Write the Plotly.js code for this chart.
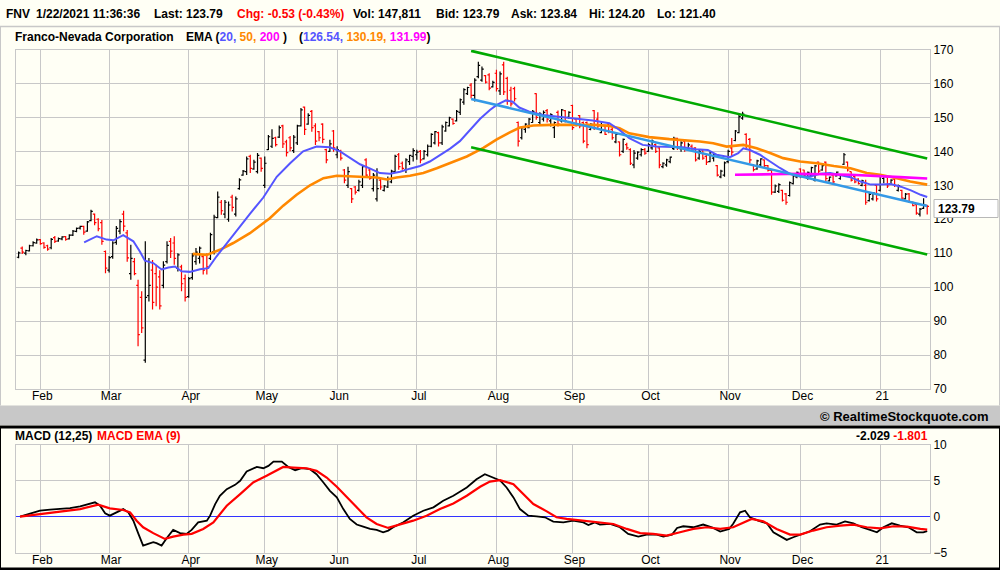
<!DOCTYPE html>
<html><head><meta charset="utf-8">
<script src="https://cdn.plot.ly/plotly-3.0.1.min.js"></script>
<style>html,body{margin:0;padding:0;background:#fffff5;}#chart{width:1000px;height:570px;}</style>
</head><body><div id="chart"></div>
<script>
// ---- Data ----
const monthTickIdx = [6,25,47,68,88,110,132,153,174,196,216,238];
const monthLabels = ['Feb','Mar','Apr','May','Jun','Jul','Aug','Sep','Oct','Nov','Dec','21'];

const openP = [
108.8,111.5,110.0,110.7,112.2,113.0,114.0,113.0,112.2,111.6,
114.6,113.6,114.2,114.9,114.2,115.3,116.4,117.4,117.9,116.5,
119.6,121.5,120.0,119.0,110.5,105.0,109.0,113.2,116.5,121.5,
116.0,104.0,107.5,100.5,97.0,78.5,97.5,105.0,104.0,103.0,
100.5,107.5,113.5,113.0,105.5,106.0,102.5,97.2,102.8,107.5,
108.5,109.0,109.5,108.5,110.5,120.5,125.0,121.5,120.0,126.5,
121.5,129.0,133.0,134.0,138.5,134.8,134.0,138.0,130.0,140.5,
141.5,144.0,144.2,147.5,142.8,144.0,140.2,142.5,147.5,153.0,
148.0,151.8,147.5,145.8,148.0,140.5,140.0,146.0,139.0,140.2,
134.5,130.0,129.0,129.5,128.5,130.0,137.5,134.5,129.0,126.0,
131.5,128.5,129.5,131.0,134.0,139.0,136.5,134.5,137.0,138.5,
139.0,140.0,137.8,139.0,141.5,142.5,145.5,142.5,146.0,147.5,
149.5,149.0,151.5,154.5,157.0,159.5,156.5,162.0,161.0,162.3,
162.5,159.0,163.0,157.8,165.5,161.5,158.0,158.5,148.5,144.0,
146.5,147.0,148.5,157.0,148.5,149.5,152.0,149.0,147.0,151.5,
149.0,152.0,150.0,153.5,149.5,150.5,148.5,148.5,146.5,152.0,
149.5,145.5,147.5,148.0,146.5,142.8,142.8,140.0,142.0,140.5,
136.0,138.0,139.0,140.5,140.0,141.0,142.0,141.0,135.5,136.0,
137.0,140.8,143.8,140.8,143.0,140.5,141.5,141.0,138.0,140.4,
138.5,137.0,138.0,135.8,132.5,133.0,137.0,141.0,143.2,145.5,
149.8,145.0,143.5,136.0,134.8,136.0,137.5,135.8,134.4,128.0,
128.2,128.5,127.5,127.0,130.5,132.5,134.8,134.5,132.0,133.0,
131.5,136.8,134.5,136.8,131.3,133.0,132.8,132.0,136.2,136.8,
134.0,132.6,131.8,130.0,130.0,125.5,126.0,130.0,128.5,132.0,
132.5,130.5,131.8,128.5,128.5,126.0,127.5,125.0,124.3,121.5,
123.2,124.1];
const highP = [
110.5,112.0,111.0,112.5,113.5,114.3,114.2,113.2,112.5,114.5,
115.1,114.6,115.0,115.1,115.6,116.8,117.6,118.1,118.1,119.5,
122.8,121.7,120.3,119.8,110.8,109.2,113.5,118.0,120.0,122.5,
116.8,112.5,108.6,102.2,98.8,113.5,108.6,108.0,106.6,105.0,
107.6,113.5,114.5,115.0,110.0,106.6,103.7,103.0,110.0,111.5,
112.0,109.6,110.0,116.0,121.3,128.2,125.7,125.7,125.2,127.2,
126.7,132.1,134.5,138.5,139.0,137.5,139.5,138.2,138.5,144.8,
146.5,144.3,147.6,147.8,143.4,144.5,144.8,147.8,152.8,153.2,
151.2,152.2,148.3,146.0,148.3,140.8,143.4,146.3,141.5,140.5,
134.8,135.5,129.2,129.8,131.6,136.0,138.0,135.0,133.6,135.0,
132.1,130.1,132.6,134.6,139.0,139.5,137.0,138.0,139.0,140.9,
140.5,140.4,140.4,142.0,145.3,146.0,145.8,147.8,148.8,150.2,
149.7,152.2,155.6,158.6,159.0,160.1,161.5,166.4,165.0,162.5,
163.0,160.8,164.0,163.5,166.4,162.0,159.0,159.0,148.8,147.5,
148.3,149.8,152.2,157.1,151.5,152.0,152.5,151.2,148.8,152.0,
152.5,152.2,151.8,153.7,149.8,150.7,148.8,148.8,148.3,152.2,
151.5,148.8,147.8,148.3,147.3,145.3,142.9,143.8,142.5,140.9,
140.4,140.0,140.9,141.0,142.4,143.5,142.3,141.4,136.8,137.8,
138.5,144.3,144.0,143.0,143.5,142.5,142.0,141.2,140.5,140.6,
139.0,140.0,139.5,136.0,134.6,137.0,140.5,143.9,146.3,150.7,
151.7,145.3,143.9,136.3,137.5,138.0,137.6,136.0,134.6,130.2,
130.6,128.7,127.7,131.1,133.1,134.1,135.0,134.6,134.1,135.5,
136.0,137.0,136.2,137.0,132.6,133.1,134.1,133.2,139.5,137.0,
134.1,133.0,132.1,131.6,131.6,127.7,128.0,130.2,133.1,133.0,
132.6,131.8,132.0,130.2,128.7,127.7,127.7,125.2,124.5,123.3,
126.2,124.2];
const lowP = [
108.5,109.8,109.4,110.5,112.0,112.8,112.5,111.3,110.7,111.2,
113.0,113.4,113.8,113.7,114.0,115.1,116.2,117.0,115.4,116.3,
119.4,118.2,116.5,112.5,104.1,104.3,108.4,112.5,115.6,116.5,
107.5,102.2,103.5,82.6,86.5,77.7,95.8,93.4,94.4,93.4,
99.7,107.0,108.6,106.6,104.6,98.8,95.8,96.9,102.2,106.6,
107.0,103.7,103.7,108.0,109.6,120.3,121.3,120.3,119.3,122.3,
120.8,128.7,132.8,133.0,133.6,134.6,133.5,134.0,129.2,140.4,
141.0,141.4,143.9,141.0,138.5,140.0,139.5,141.9,147.3,144.8,
147.8,145.8,141.9,143.0,142.4,136.5,139.9,139.9,138.0,137.3,
130.6,129.2,124.8,127.3,128.2,129.2,132.6,131.6,128.2,125.2,
128.7,128.2,129.2,130.6,133.6,134.6,134.6,133.6,136.0,137.0,
137.5,136.5,137.6,138.5,141.2,142.0,141.4,141.9,145.8,147.3,
147.8,148.8,150.7,153.7,156.6,155.6,154.7,161.5,160.5,160.0,
158.0,158.8,157.6,156.6,156.6,153.7,153.2,154.7,141.4,143.5,
145.5,146.8,148.4,149.3,147.5,148.8,148.5,147.3,143.9,147.3,
148.5,148.5,149.5,146.3,147.3,146.8,142.4,140.9,146.2,146.3,
146.5,145.3,144.8,145.3,143.4,142.4,138.5,139.5,140.5,136.0,
135.0,137.5,138.5,139.0,139.8,140.5,139.5,135.0,135.0,135.5,
136.5,140.4,140.4,139.9,139.9,140.3,140.3,137.0,137.5,137.5,
136.0,136.8,137.0,132.6,132.1,132.5,136.5,138.5,143.0,145.3,
149.3,140.9,136.5,134.1,134.6,135.5,135.2,134.1,127.2,127.7,
127.7,125.2,124.3,126.7,130.2,132.1,132.1,132.6,131.6,132.6,
131.1,133.6,134.3,131.1,131.1,130.6,132.6,131.6,136.0,134.1,
131.1,130.6,130.2,129.7,124.3,125.2,125.5,125.2,128.2,130.6,
129.2,130.3,129.5,128.2,125.7,125.8,124.8,123.8,121.3,120.8,
123.0,121.4];
const closeP = [
110.1,110.3,110.8,112.2,113.1,113.9,112.8,111.7,111.2,114.1,
113.5,114.3,114.8,114.1,115.3,116.5,117.3,117.9,116.2,119.2,
122.3,119.0,117.2,113.5,105.6,108.7,113.0,117.3,119.3,118.0,
108.6,108.5,104.0,86.0,88.0,97.0,100.5,95.5,100.0,94.5,
106.5,112.3,110.6,108.5,109.5,101.0,97.0,102.5,109.2,110.3,
111.5,105.0,106.0,115.5,120.6,126.5,122.5,125.0,124.2,123.5,
126.0,131.6,134.2,137.8,135.0,136.8,138.8,135.0,136.5,144.3,
143.8,142.0,147.0,142.2,139.6,141.0,144.2,147.5,152.2,146.5,
150.6,147.0,143.0,144.0,143.5,137.5,142.2,141.0,140.5,138.0,
131.5,134.0,126.0,128.0,131.0,135.5,133.0,132.0,133.0,129.0,
129.5,129.8,132.0,134.2,138.5,135.5,135.0,137.5,138.8,140.2,
139.8,137.5,140.0,141.5,145.0,145.8,142.5,147.2,148.5,149.9,
148.2,151.8,155.2,158.2,158.8,156.5,161.0,165.3,164.2,160.4,
158.6,160.3,158.5,162.8,157.5,155.0,154.0,155.5,143.0,147.0,
148.0,149.5,151.8,150.0,151.0,151.5,149.5,150.8,148.5,148.0,
152.2,149.0,151.5,147.0,147.8,147.5,143.0,142.0,148.0,147.0,
147.5,148.5,145.0,145.8,144.0,145.0,139.0,143.5,141.0,136.5,
139.5,139.8,140.5,139.5,142.0,143.0,140.0,136.0,136.5,137.5,
138.3,143.8,141.0,142.5,140.5,141.9,140.8,137.5,140.0,138.0,
136.8,139.6,139.0,133.0,134.2,136.6,140.0,139.8,146.0,150.2,
151.0,141.5,137.5,134.6,137.2,137.8,135.8,134.4,128.0,129.8,
130.2,125.6,125.0,130.8,132.8,133.8,133.0,133.0,133.8,135.2,
135.7,134.2,135.8,132.0,132.4,131.0,133.9,133.0,139.0,134.5,
131.5,131.0,130.5,131.3,125.0,127.3,127.8,126.0,132.8,132.6,
129.8,131.5,130.0,129.9,126.2,127.4,125.2,124.0,121.8,123.0,
124.32,123.79];

// EMA lines, read at sample positions (bar index, value)
const ema20X = [18.1,21.6,24.3,26.2,28.9,31.7,33.5,34.9,37.2,39.5,41.4,43.2,45,47.3,50.1,52.4,54.7,57.5,61.2,63.9,67.6,71.3,75,78.6,82.3,86,88.8,91.5,94.3,97,99.8,102.6,105.4,108.1,110.9,113.6,116.4,119.2,121.9,124.7,127.5,130.2,132.1,134.6,136.5,138.3,141.1,144.8,149.4,154,158.6,163.2,166,168.7,172.4,176.1,179.8,183.5,187.1,190.4,192.8,196.5,198.8,200.2,202,204.8,207.6,210.3,213.1,215.9,218.7,221.4,224.2,227,229.8,232.6,235.4,238.1,240.9,243.7,246.5,249.2,251];
const ema20Y = [113.2,115.0,114.0,113.8,115.3,113.5,110.5,107.8,107.1,105.2,105.8,106.1,104.7,104.5,105.3,105.6,109.1,113.0,117.9,121.6,126.4,132.5,136.5,140.0,141.4,141.2,140.0,138.2,136.2,135.0,133.6,133.4,134.0,134.9,135.7,137.0,138.8,140.8,143.0,146.2,149.6,152.2,153.7,155.0,154.6,152.9,151.7,150.7,150.2,149.7,149.1,148.3,146.3,143.9,141.9,141.4,141.4,141.2,140.6,140.4,139.0,138.3,139.5,140.9,140.4,139.0,137.0,135.1,133.4,132.6,132.6,133.4,133.6,133.1,132.4,131.1,130.2,130.2,130.4,129.6,128.5,127.2,126.54];
const ema50X = [48.1,52,55.6,59.3,63.9,69.4,73.1,76.8,80.5,84.2,87.9,91.5,95.2,98.9,101.7,104.4,108.1,111.8,115.5,119.2,123.8,128.4,132.1,135.7,138.5,142.2,147,154,159,163.2,166,168.7,174.2,179.8,185.3,188.2,191.9,195.6,200.2,203.9,207.6,211.2,215.9,220.5,225.2,229.8,234.3,238,242.6,246.3,251];
const ema50Y = [109.8,109.5,111.0,113.0,115.9,120.3,124.0,127.2,130.0,132.1,132.8,132.6,132.4,132.3,131.7,132.3,132.8,133.6,135.0,136.5,138.5,141.0,143.5,145.6,147.0,147.6,147.8,147.8,147.8,147.5,146.8,145.3,144.2,143.6,143.2,142.9,142.4,141.4,141.9,140.9,139.5,138.0,137.0,136.5,135.7,135.05,133.6,133.1,132.1,131.1,130.19];
const ema200X = [197.9,205,215.9,229.8,237.1,243.5,251];
const ema200Y = [133.1,133.3,133.4,133.1,132.8,132.4,131.99];

// Trend channel (regression line and parallel bands)
const trendX = [125,251];
const trendMid = [155.4,123.9];
const trendUpper = [169.6,137.9];
const trendLower = [141.2,109.6];

// MACD (12,25) and its EMA(9)
const macdX = [0.4,3.1,5.9,8.7,11.4,14.2,17,19.7,21.1,22.5,23.9,25.2,27.1,28.9,30.3,31.7,33.1,34.4,35.8,37.2,38.1,39.5,41.1,42.7,44.6,46.4,47.8,49.6,52,52.9,54.3,55.6,57.5,59.8,61.2,63,65.8,67.6,69,70.4,72.7,74.5,76.4,78.2,80.5,82.3,84.2,86,87.9,89.7,91.5,93.4,95.2,97.1,98.9,100.7,102.1,103.5,106.3,109,111.8,114.6,117.3,120.1,123.8,126.5,128.8,131.1,133,134.8,136.7,138.5,140.8,143.1,145.4,147.7,150.5,153.2,156,157.4,159.2,160.6,163.4,166.1,168.4,171.2,173.5,176.3,178.1,180.5,181.9,183.6,186.4,189.1,191.9,193.8,196.3,197.4,199.3,200.7,202,204.3,206.7,208.5,210.8,212.2,214,216.3,218.6,221.4,223.2,226,228.3,230.6,232.9,235.2,237.1,238.9,241.2,243.5,245.8,248.1,249.9,251];
const macdY = [0,0.37,0.83,0.97,1.06,1.2,1.44,1.76,2.0,1.53,0.46,0.14,0.6,1.06,0.6,-0.56,-2.4,-4.03,-3.8,-3.56,-3.7,-4.03,-2.87,-1.85,-2.3,-2.4,-1.85,-0.79,-0.56,0.14,1.76,2.9,3.84,4.44,5.0,6.3,6.94,6.76,7.08,7.69,7.69,6.94,6.48,6.76,6.62,5.93,4.77,3.61,2.69,1.06,-0.32,-1.1,-1.39,-1.71,-1.85,-2.18,-1.94,-1.48,-0.79,0.14,0.83,1.3,2.22,2.92,4.07,5.23,5.93,5.46,5.05,4.07,2.69,1.06,0.14,0.05,-0.09,-0.69,-0.79,-0.56,-0.79,-1.16,-0.79,-1.1,-1.0,-1.48,-2.4,-2.78,-2.5,-2.5,-2.78,-2.5,-1.57,-1.34,-1.48,-1.1,-1.57,-2.08,-1.71,-1.0,0.6,0.83,-0.09,-0.56,-0.93,-2.18,-2.78,-3.24,-2.87,-2.4,-2.04,-1.1,-0.93,-1.1,-0.65,-0.93,-1.48,-1.85,-2.18,-1.48,-0.93,-1.25,-1.48,-2.18,-2.18,-2.029];
const signalX = [0.4,8.7,17,22,25.2,28.9,30.8,32.6,34.4,37.2,40.4,42.7,45.5,47.8,51,53.8,57.5,61.2,64.8,68.5,71.3,73.1,75.9,79.6,82.3,85.1,87.9,90.6,93.4,96.1,98.9,102.1,105.4,109,112.7,116.4,120.1,123.8,127.5,130.2,133,136.7,139.4,142.2,145.9,148.6,151.4,156,160.6,164.3,168,171.7,175.3,179,182.7,186.4,190.1,193.8,197.4,200.2,202.5,205.7,209.4,213.1,215.9,219.5,223.2,227,230.6,234.3,238,241.7,245.4,249.1,251];
const signalY = [0,0.5,1.06,1.67,1.16,0.93,0.6,-0.56,-1.48,-2.3,-3.1,-2.78,-2.5,-2.4,-1.71,-0.79,1.53,3.15,4.77,5.7,6.48,6.94,6.85,6.76,6.39,5.46,4.17,2.69,1.3,-0.09,-1.02,-1.57,-1.1,-0.56,0.14,1.06,1.85,2.92,4.17,4.9,5.1,4.54,3.15,1.76,0.74,-0.09,-0.32,-0.56,-0.79,-1.02,-1.71,-2.3,-2.4,-2.64,-2.18,-1.71,-1.48,-1.71,-1.48,-0.79,-0.32,-0.65,-1.71,-2.5,-2.5,-1.94,-1.48,-1.25,-1.1,-1.48,-1.62,-1.34,-1.39,-1.71,-1.801];

const priceTicks = [70,80,90,100,110,120,130,140,150,160,170];
const macdTicks = [-5,0,5,10];

// ---- Layout helpers ----
const W = 1000, H = 570;
const FONT = 'Liberation Sans, Arial, sans-serif';
const BG = '#fffff5';
const GRID = '#c8c8c8';
const C_BLUE = '#5555ff', C_ORANGE = '#ff8800', C_MAG = '#ff00ff', C_GREEN = '#00aa00', C_LBLUE = '#3399e6';
const fx = p => p / W, fy = p => 1 - p / H;
const barIdx = closeP.map((_, i) => i);
const xRange = [-0.72, 251.77];

const traces = [
  {type:'ohlc', x:barIdx, open:openP, high:highP, low:lowP, close:closeP, xaxis:'x', yaxis:'y',
   increasing:{line:{color:'#000000', width:1.2}}, decreasing:{line:{color:'#ff0000', width:1.2}},
   tickwidth:0.5, hoverinfo:'skip', showlegend:false},
  {type:'scatter', mode:'lines', x:ema50X, y:ema50Y, line:{color:C_ORANGE, width:2.6}, xaxis:'x', yaxis:'y', showlegend:false},
  {type:'scatter', mode:'lines', x:ema20X, y:ema20Y, line:{color:C_BLUE, width:2}, xaxis:'x', yaxis:'y', showlegend:false},
  {type:'scatter', mode:'lines', x:ema200X, y:ema200Y, line:{color:C_MAG, width:2.6}, xaxis:'x', yaxis:'y', showlegend:false},
  {type:'scatter', mode:'lines', x:trendX, y:trendMid, line:{color:C_LBLUE, width:2.6}, xaxis:'x', yaxis:'y', showlegend:false},
  {type:'scatter', mode:'lines', x:trendX, y:trendUpper, line:{color:C_GREEN, width:2.6}, xaxis:'x', yaxis:'y', showlegend:false},
  {type:'scatter', mode:'lines', x:trendX, y:trendLower, line:{color:C_GREEN, width:2.6}, xaxis:'x', yaxis:'y', showlegend:false},
  {type:'scatter', mode:'lines', x:macdX, y:macdY, line:{color:'#000000', width:1.8}, xaxis:'x2', yaxis:'y2', showlegend:false},
  {type:'scatter', mode:'lines', x:signalX, y:signalY, line:{color:'#ff0000', width:2.2}, xaxis:'x2', yaxis:'y2', showlegend:false}
];

const tickFont = {family:FONT, size:12, color:'#000'};
function xAx(anchor){
  return {domain:[fx(16), fx(930)], range:xRange, anchor:anchor, tickmode:'array', tickvals:monthTickIdx, ticktext:monthLabels,
    showgrid:true, gridcolor:GRID, gridwidth:1, zeroline:false, showline:true, mirror:true, linecolor:GRID, linewidth:1,
    ticks:'', tickfont:tickFont, ticklabelshift:2, ticklabelstandoff:-4, rangeslider:{visible:false}, fixedrange:true};
}
function yAx(anchor, dom, rng, tv){
  return {domain:dom, range:rng, anchor:anchor, side:'right', tickmode:'array', tickvals:tv,
    showgrid:true, gridcolor:GRID, gridwidth:1, showline:true, mirror:true, linecolor:GRID, linewidth:1,
    ticks:'', tickfont:tickFont, fixedrange:true};
}

function ann(text, x, y, opts){
  return Object.assign({text:text, xref:'paper', yref:'paper', x:fx(x), y:fy(y), xanchor:'left', yanchor:'middle',
    showarrow:false, font:{family:FONT, size:12, color:'#000'}, borderpad:0}, opts||{});
}
const sp = (c, t) => '<span style="color:' + c + '">' + t + '</span>';

const annotations = [
  ann('<b>FNV</b>', 5, 14),
  ann('<b>1/22/2021 11:36:36</b>', 35, 14),
  ann('<b>Last: 123.79</b>', 153, 14),
  ann('<b>Chg: -0.53 (-0.43%)</b>', 236, 14, {font:{family:FONT, size:12, color:'#ff0000'}}),
  ann('<b>Vol: 147,811</b>', 352, 14),
  ann('<b>Bid: 123.79</b>', 435, 14),
  ann('<b>Ask: 123.84</b>', 510, 14),
  ann('<b>Hi: 124.20</b>', 588, 14),
  ann('<b>Lo: 121.40</b>', 656, 14),
  ann('<b>Franco-Nevada Corporation</b>', 14, 37),
  ann('<b>EMA (' + sp(C_BLUE,'20,') + ' ' + sp(C_ORANGE,'50,') + ' ' + sp(C_MAG,'200') + ' )</b>', 185, 37),
  ann('<b>(' + sp(C_BLUE,'126.54,') + ' ' + sp(C_ORANGE,'130.19,') + ' ' + sp(C_MAG,'131.99') + ')</b>', 298, 37),
  ann('<b>123.79</b>', 937, 208.5),
  ann('<b>© RealtimeStockquote.com</b>', 990, 416, {xanchor:'right', font:{family:FONT, size:13, color:'#000'}}),
  ann('<b>MACD (12,25)</b>', 14, 435.5),
  ann('<b>MACD EMA (9)</b>', 96, 435.5, {font:{family:FONT, size:12, color:'#ff0000'}}),
  ann('<b>-2.029 ' + sp('#ff0000','-1.801') + '</b>', 929, 435.5, {xanchor:'right'})
];

const shapes = [
  {type:'line', xref:'paper', yref:'paper', x0:0, x1:1, y0:fy(26.5), y1:fy(26.5), line:{color:GRID, width:1.5}},
  {type:'rect', xref:'paper', yref:'paper', x0:0, x1:1, y0:fy(425), y1:fy(405.5), fillcolor:'#c8c8c8', line:{width:0}},
  {type:'line', xref:'paper', yref:'paper', x0:0, x1:1, y0:fy(427), y1:fy(427), line:{color:'#000', width:3}},
  {type:'line', xref:'paper', yref:'paper', x0:0, x1:1, y0:fy(569), y1:fy(569), line:{color:'#000', width:3}},
  {type:'line', xref:'paper', yref:'paper', x0:fx(0.5), x1:fx(0.5), y0:fy(26.5), y1:fy(405.5), line:{color:GRID, width:1}},
  {type:'line', xref:'paper', yref:'paper', x0:fx(999.5), x1:fx(999.5), y0:fy(26.5), y1:fy(405.5), line:{color:GRID, width:1}},
  {type:'line', xref:'paper', yref:'paper', x0:fx(0.5), x1:fx(0.5), y0:fy(428), y1:fy(568), line:{color:'#000', width:1}},
  {type:'line', xref:'paper', yref:'paper', x0:fx(999.5), x1:fx(999.5), y0:fy(428), y1:fy(568), line:{color:'#000', width:1}},
  {type:'rect', xref:'paper', yref:'paper', x0:fx(934), x1:fx(998), y0:fy(217.5), y1:fy(199.5), fillcolor:'#ffffff', line:{color:'#b8b8b8', width:1}, layer:'above'}
];

const layout = {
  width:W, height:H, margin:{l:0, r:0, t:0, b:0}, paper_bgcolor:BG, plot_bgcolor:BG,
  showlegend:false, hovermode:false, dragmode:false,
  xaxis:xAx('y'), yaxis:yAx('x', [fy(389), fy(49.5)], [70,170], priceTicks),
  xaxis2:xAx('y2'), yaxis2:Object.assign(yAx('x2', [fy(552.5), fy(445)], [-5,10], macdTicks),
    {zeroline:true, zerolinecolor:'#3333ff', zerolinewidth:1}),
  annotations:annotations, shapes:shapes
};

Plotly.newPlot('chart', traces, layout, {staticPlot:true, displayModeBar:false});
</script></body></html>
